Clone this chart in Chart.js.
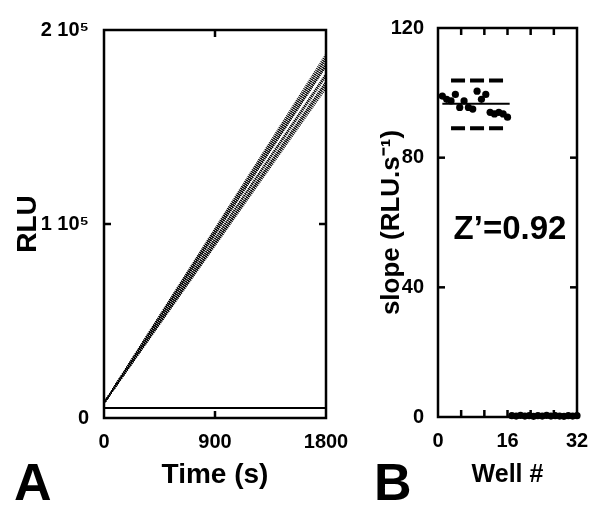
<!DOCTYPE html>
<html>
<head>
<meta charset="utf-8">
<script src="https://cdn.jsdelivr.net/npm/chart.js@4/dist/chart.umd.min.js"></script>
<style>
  body   { margin: 0; background: #fff; }
  #wrap  { position: relative; width: 604px; height: 514px; background: #fff; }
  canvas { position: absolute; top: 0; }
  #chartA { left: 0; }
  #chartB { left: 370px; }
</style>
</head>
<body>
<div id="wrap">
  <canvas id="chartA" width="370" height="514"></canvas>
  <canvas id="chartB" width="234" height="514"></canvas>
</div>
<script>
// Panel A: luminescence of each well over time (RLU)

const timeEnds       = [0, 1800]
const sampleStartRLU = 7700
const sampleEndRLU   = [184500, 183000, 181500, 186000, 177500, 181500, 177000, 176000,
                        187500, 182500, 185500, 173500, 172000, 173000, 171500, 170000]
const controlRLU     = [5100, 5100]
const timeTicks      = [0, 900, 1800]
const timeTickLabels = ['0', '900', '1800']
const rluTicks       = [0, 100000, 200000]
const rluTickLabels  = ['0', '1 10⁵', '2 10⁵']

// Panel B: slope per well

const sampleWells    = [1, 2, 3, 4, 5, 6, 7, 8, 9, 10, 11, 12, 13, 14, 15, 16]
const sampleSlopes   = [99, 98, 97.5, 99.5, 95.5, 97.5, 95.5, 95, 100.5, 98, 99.5, 94, 93.5, 94, 93.5, 92.5]
const controlWells   = [17, 18, 19, 20, 21, 22, 23, 24, 25, 26, 27, 28, 29, 30, 31, 32]
const controlSlopes  = [0.4, 0.3, 0.5, 0.3, 0.4, 0.2, 0.4, 0.3, 0.5, 0.3, 0.4, 0.3, 0.2, 0.4, 0.3, 0.4]
const meanSlope      = 96.6
const meanSpan       = [1, 16.5]
const cutoffHigh     = 103.8
const cutoffLow      = 89.1
const cutoffSpan     = [3, 15.6]
const wellTicks      = [0, 5.33, 10.67, 16, 21.33, 26.67, 32]
const wellTickLabels = ['0', '', '', '16', '', '', '32']
const slopeTicks     = [0, 40, 80, 120]

const FONT = '"Liberation Sans", Arial, sans-serif'

// Boxed frame with short inward ticks on all four sides

const frameTicks = {
  id: 'frameTicks',
  afterDatasetsDraw(chart, args, opts)
  {
    const { ctx, chartArea: a, scales } = chart
    const len = opts.len || 7

    const seg = (x1, y1, x2, y2) => {
      ctx.beginPath()
      ctx.moveTo(x1, y1)
      ctx.lineTo(x2, y2)
      ctx.stroke()
    }

    ctx.save()
    ctx.strokeStyle = '#000'
    ctx.lineWidth   = opts.width || 2.5

    scales.x.ticks.forEach(t => {
      const px = scales.x.getPixelForValue(t.value)
      if( px <= a.left + 1 || px >= a.right - 1 ) return
      seg(px, a.bottom, px, a.bottom - len)
      seg(px, a.top,    px, a.top + len)
    })

    scales.y.ticks.forEach(t => {
      const py = scales.y.getPixelForValue(t.value)
      if( py <= a.top + 1 || py >= a.bottom - 1 ) return
      seg(a.left,  py, a.left + len,  py)
      seg(a.right, py, a.right - len, py)
    })

    ctx.strokeRect(a.left, a.top, a.right - a.left, a.bottom - a.top)
    ctx.restore()
  }
}

// Free text (panel letters, Z' value)

const panelText = {
  id: 'panelText',
  afterDraw(chart, args, opts)
  {
    const ctx = chart.ctx
    ;(opts.items || []).forEach(it => {
      ctx.save()
      ctx.font         = `bold ${it.size}px ${FONT}`
      ctx.fillStyle    = '#000'
      ctx.textAlign    = it.align || 'left'
      ctx.textBaseline = 'alphabetic'
      ctx.fillText(it.text, it.x, it.y)
      ctx.restore()
    })
  }
}

const tickFont = { family: FONT, size: 20, weight: 'bold' }

function setTicks(values)
{
  return scale => { scale.ticks = values.map(v => ({ value: v })) }
}

// --- Panel A ---

const traceSets = sampleEndRLU.map((end, i) => ({
  label:       `well ${i + 1}`,
  data:        [{ x: timeEnds[0], y: sampleStartRLU }, { x: timeEnds[1], y: end }],
  showLine:    true,
  borderColor: '#000',
  borderWidth: 1.6,
  borderDash:  [1, 1],
  pointRadius: 0
}))

traceSets.push({
  label:       'controls',
  data:        timeEnds.map((t, i) => ({ x: t, y: controlRLU[i] })),
  showLine:    true,
  borderColor: '#000',
  borderWidth: 2,
  pointRadius: 0
})

new Chart(document.getElementById('chartA'), {
  type: 'scatter',
  data: { datasets: traceSets },
  options: {
    responsive: false,
    animation:  false,
    devicePixelRatio: 1,
    layout: { padding: { top: 30, right: 44, left: 0, bottom: 0 } },
    plugins: {
      legend:  { display: false },
      tooltip: { enabled: false },
      frameTicks: { width: 2.5, len: 7 },
      panelText: { items: [ { text: 'A', x: 14, y: 500, size: 52 } ] }
    },
    scales: {
      x: {
        type: 'linear', min: 0, max: 1800,
        afterBuildTicks: setTicks(timeTicks),
        afterFit: s => { s.height = 96 },
        grid:   { display: false },
        border: { display: false },
        ticks:  { font: tickFont, color: '#000', padding: 4, maxRotation: 0,
                  callback: (v, i) => timeTickLabels[i] },
        title:  { display: true, text: 'Time (s)', color: '#000',
                  font: { family: FONT, size: 28, weight: 'bold' }, padding: { top: 0, bottom: 22 } }
      },
      y: {
        type: 'linear', min: 0, max: 200000,
        afterBuildTicks: setTicks(rluTicks),
        afterFit: s => { s.width = 104 },
        grid:   { display: false },
        border: { display: false },
        ticks:  { font: tickFont, color: '#000', padding: 7,
                  callback: (v, i) => rluTickLabels[i] },
        title:  { display: true, text: 'RLU', color: '#000',
                  font: { family: FONT, size: 28, weight: 'bold' }, padding: { top: 11, bottom: 0 } }
      }
    }
  },
  plugins: [frameTicks, panelText]
})

// --- Panel B ---

const slopeSets = [
  {
    label:           'samples',
    data:            sampleWells.map((w, i) => ({ x: w, y: sampleSlopes[i] })),
    pointRadius:     3.6,
    backgroundColor: '#000',
    borderWidth:     0,
    clip:            false
  },
  {
    label:           'controls',
    data:            controlWells.map((w, i) => ({ x: w, y: controlSlopes[i] })),
    pointRadius:     3.6,
    backgroundColor: '#000',
    borderWidth:     0,
    clip:            false
  },
  {
    label:       'mean',
    data:        meanSpan.map(x => ({ x: x, y: meanSlope })),
    showLine:    true,
    borderColor: '#000',
    borderWidth: 2,
    pointRadius: 0
  },
  {
    label:       'upper limit',
    data:        cutoffSpan.map(x => ({ x: x, y: cutoffHigh })),
    showLine:    true,
    borderColor: '#000',
    borderWidth: 4,
    borderDash:  [14, 5],
    pointRadius: 0
  },
  {
    label:       'lower limit',
    data:        cutoffSpan.map(x => ({ x: x, y: cutoffLow })),
    showLine:    true,
    borderColor: '#000',
    borderWidth: 4,
    borderDash:  [14, 5],
    pointRadius: 0
  }
]

new Chart(document.getElementById('chartB'), {
  type: 'scatter',
  data: { datasets: slopeSets },
  options: {
    responsive: false,
    animation:  false,
    devicePixelRatio: 1,
    layout: { padding: { top: 28, right: 27, left: 0, bottom: 0 } },
    plugins: {
      legend:  { display: false },
      tooltip: { enabled: false },
      frameTicks: { width: 2.5, len: 7 },
      panelText: { items: [
        { text: 'B',        x: 4,   y: 500, size: 52 },
        { text: 'Z’=0.92', x: 140, y: 239, size: 33, align: 'center' }
      ] }
    },
    scales: {
      x: {
        type: 'linear', min: 0, max: 32,
        afterBuildTicks: setTicks(wellTicks),
        afterFit: s => { s.height = 97 },
        grid:   { display: false },
        border: { display: false },
        ticks:  { font: tickFont, color: '#000', padding: 4, maxRotation: 0, autoSkip: false,
                  callback: (v, i) => wellTickLabels[i] },
        title:  { display: true, text: 'Well #', color: '#000',
                  font: { family: FONT, size: 25, weight: 'bold' }, padding: { top: 0, bottom: 24 } }
      },
      y: {
        type: 'linear', min: 0, max: 120,
        afterBuildTicks: setTicks(slopeTicks),
        afterFit: s => { s.width = 68 },
        grid:   { display: false },
        border: { display: false },
        ticks:  { font: tickFont, color: '#000', padding: 6 },
        title:  { display: true, text: 'slope (RLU.s⁻¹)', color: '#000',
                  font: { family: FONT, size: 26, weight: 'bold' }, padding: { top: 6, bottom: 0 } }
      }
    }
  },
  plugins: [frameTicks, panelText]
})
</script>
</body>
</html>
